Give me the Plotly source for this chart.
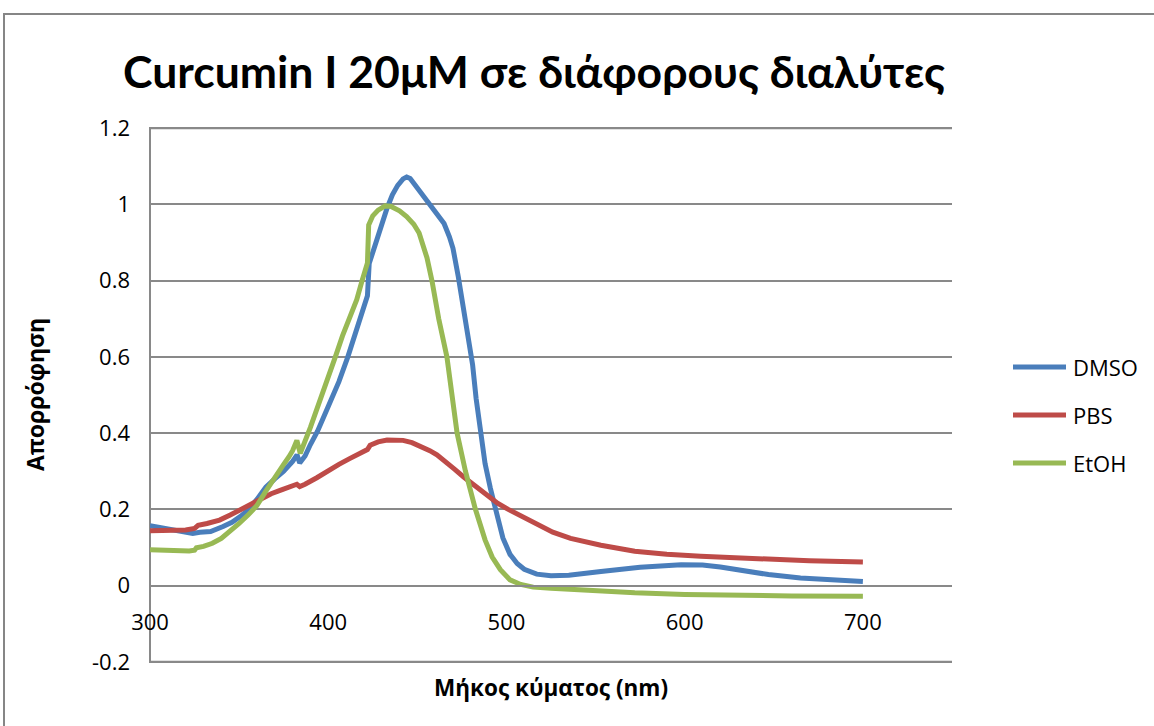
import plotly.graph_objects as go

# Absorption spectra of Curcumin I (20 μM) in three solvents
series_names = ["DMSO", "PBS", "EtOH"]
series_colors = ["#4A7EBB", "#BE4B48", "#98B954"]

dmso_wl = [300, 305, 313, 320, 324, 328, 334, 341, 346, 350.6, 355, 360, 365, 370, 375, 380,
           382.5, 384, 387, 390, 394, 400, 406, 411, 416, 422, 423, 426, 430, 433, 436, 439,
           442, 444, 446, 449, 452, 455, 459, 462, 465, 468, 470, 473, 476, 479, 481, 483,
           485.4, 488, 491, 494, 498, 502, 506, 510, 517, 525, 535, 553, 575, 598, 610, 620,
           635, 647, 665, 685, 700]
dmso_abs = [0.157, 0.153, 0.146, 0.140, 0.137, 0.140, 0.142, 0.155, 0.166, 0.181, 0.198, 0.226,
            0.258, 0.280, 0.300, 0.326, 0.343, 0.322, 0.340, 0.370, 0.405, 0.470, 0.535, 0.600,
            0.670, 0.760, 0.845, 0.890, 0.948, 0.990, 1.025, 1.050, 1.067, 1.072, 1.068, 1.050,
            1.028, 1.010, 0.990, 0.970, 0.950, 0.915, 0.885, 0.810, 0.720, 0.640, 0.580, 0.490,
            0.400, 0.320, 0.255, 0.200, 0.125, 0.082, 0.058, 0.043, 0.030, 0.026, 0.027, 0.037,
            0.048, 0.055, 0.054, 0.049, 0.038, 0.029, 0.020, 0.014, 0.011]

pbs_wl = [300, 310, 320, 325, 327, 332, 339, 345, 350, 356, 362, 368, 373, 378, 382.4, 384,
          387, 393.6, 400, 406, 412, 418, 422, 423.5, 428, 433, 437, 442, 447, 452, 457, 461,
          466, 471, 476, 480, 485, 490, 495, 501, 508, 517, 526, 536, 553, 572, 590, 609, 630,
          647, 670, 700]
pbs_abs = [0.144, 0.145, 0.146, 0.150, 0.158, 0.163, 0.172, 0.185, 0.197, 0.213, 0.229, 0.241,
           0.250, 0.258, 0.266, 0.260, 0.266, 0.283, 0.302, 0.318, 0.333, 0.347, 0.357, 0.368,
           0.377, 0.382, 0.383, 0.381, 0.375, 0.366, 0.354, 0.343, 0.326, 0.305, 0.285, 0.270,
           0.252, 0.234, 0.216, 0.200, 0.183, 0.160, 0.140, 0.124, 0.106, 0.090, 0.082, 0.077,
           0.072, 0.068, 0.065, 0.062]

etoh_wl = [300, 310, 318, 322, 325, 326, 330, 335, 340, 345, 350, 355, 360, 365, 370, 375, 378,
           380, 382.4, 383.5, 384.3, 390, 395.5, 400, 404, 408, 412, 416, 419, 422, 422.7, 425,
           428, 432, 435, 440, 444, 448, 451, 453, 455.4, 458.2, 462, 466.6, 469.5, 472.3, 477,
           482.6, 488, 492, 496.6, 502, 508, 515, 525, 540, 553, 572, 600, 628, 660, 700]
etoh_abs = [0.094, 0.092, 0.090, 0.091, 0.093, 0.099, 0.103, 0.111, 0.124, 0.142, 0.163, 0.185,
            0.210, 0.248, 0.285, 0.318, 0.338, 0.354, 0.381, 0.360, 0.347, 0.415, 0.485, 0.545,
            0.600, 0.655, 0.705, 0.750, 0.800, 0.846, 0.946, 0.970, 0.985, 0.996, 0.995, 0.983,
            0.968, 0.948, 0.925, 0.895, 0.860, 0.800, 0.700, 0.600, 0.500, 0.400, 0.300, 0.200,
            0.120, 0.075, 0.042, 0.015, 0.003, -0.004, -0.007, -0.011, -0.015, -0.019, -0.023,
            -0.026, -0.027, -0.028]

x_ticks = [300, 400, 500, 600, 700]
y_ticks = [-0.2, 0, 0.2, 0.4, 0.6, 0.8, 1.0, 1.2]
y_tick_text = ["-0.2", "0", "0.2", "0.4", "0.6", "0.8", "1", "1.2"]

title_text = "Curcumin I 20μM σε διάφορους διαλύτες"
x_title = "Μήκος κύματος (nm)"
y_title = "Απορρόφηση"

W, H = 1154, 726
ML, MR, MT, MB = 150, 202, 127, 63
PW, PH = W - ML - MR, H - MT - MB
Y_MIN, Y_MAX = -0.2, 1.2
Y_PAD = 0.003  # small headroom so the edge gridlines are not clipped

def px_to_paper_x(px):
    return (px - ML) / PW

def px_to_paper_y(py):
    return (H - MB - py) / PH

GRID = "#898989"
FONT = "Open Sans"

fig = go.Figure()
for name, color, wl, ab in zip(series_names, series_colors,
                               [dmso_wl, pbs_wl, etoh_wl],
                               [dmso_abs, pbs_abs, etoh_abs]):
    fig.add_trace(go.Scatter(x=wl, y=ab, mode="lines", name=name,
                             line=dict(color=color, width=5),
                             showlegend=False, hoverinfo="x+y+name"))

# height fraction where the wavelength axis crosses the absorbance axis (at 0)
zero_pos = (0 - (Y_MIN - Y_PAD)) / ((Y_MAX + Y_PAD) - (Y_MIN - Y_PAD))

fig.update_layout(
    width=W, height=H,
    margin=dict(l=ML, r=MR, t=MT, b=MB, pad=0),
    paper_bgcolor="white", plot_bgcolor="white",
    font=dict(family=FONT, color="#000000", size=22),
    title=dict(text="<b>" + title_text + "</b>", x=534 / W, xanchor="center",
               y=1 - 72 / H, yanchor="middle",
               font=dict(family="Lato", size=44.5, color="#000000")),
    xaxis=dict(range=[300, 750], tickvals=x_ticks, ticktext=[str(v) for v in x_ticks],
               showgrid=False, zeroline=False, showline=True, linecolor=GRID, linewidth=2,
               anchor="free", position=zero_pos, ticks="", ticklabelstandoff=17,
               tickfont=dict(family=FONT, size=22, color="#000000")),
    yaxis=dict(range=[Y_MIN - Y_PAD, Y_MAX + Y_PAD], tickvals=y_ticks, ticktext=y_tick_text,
               showgrid=True, gridcolor=GRID, gridwidth=2, zeroline=False,
               showline=False, ticks="", ticklabelstandoff=19,
               tickfont=dict(family=FONT, size=22, color="#000000")),
    showlegend=False,
)

annotations = [
    dict(text="<b>" + x_title + "</b>", x=px_to_paper_x(551), y=px_to_paper_y(687),
         xref="paper", yref="paper", xanchor="center", yanchor="middle", showarrow=False,
         font=dict(family=FONT, size=22.5, color="#000000")),
    dict(text="<b>" + y_title + "</b>", x=px_to_paper_x(35), y=px_to_paper_y(395),
         xref="paper", yref="paper", xanchor="center", yanchor="middle", showarrow=False,
         textangle=-90, font=dict(family=FONT, size=23, color="#000000")),
]

shapes = [
    # outer chart frame
    dict(type="rect", xref="paper", yref="paper",
         x0=px_to_paper_x(4), x1=px_to_paper_x(1170),
         y0=px_to_paper_y(740), y1=px_to_paper_y(14),
         line=dict(color="#868686", width=2), fillcolor="rgba(0,0,0,0)", layer="below"),
    # vertical value axis line along the left edge of the plot area
    dict(type="line", xref="paper", yref="paper", x0=0, x1=0, y0=0, y1=1,
         line=dict(color=GRID, width=2), layer="below"),
]
# gridlines at the two ends of the value range
for yv in (Y_MIN, Y_MAX):
    shapes.append(dict(type="line", xref="paper", yref="y", x0=0, x1=1, y0=yv, y1=yv,
                       line=dict(color=GRID, width=2), layer="below"))

# legend: swatch line plus label for each series
legend_y = [367, 415, 463]
for name, color, ly in zip(series_names, series_colors, legend_y):
    shapes.append(dict(type="line", xref="paper", yref="paper",
                       x0=px_to_paper_x(1013), x1=px_to_paper_x(1066),
                       y0=px_to_paper_y(ly), y1=px_to_paper_y(ly),
                       line=dict(color=color, width=5)))
    annotations.append(dict(text=name, x=px_to_paper_x(1071), y=px_to_paper_y(ly),
                            xref="paper", yref="paper", xanchor="left", yanchor="middle",
                            showarrow=False, font=dict(family=FONT, size=22, color="#000000")))

fig.update_layout(annotations=annotations, shapes=shapes)
fig.write_html("out.html")
